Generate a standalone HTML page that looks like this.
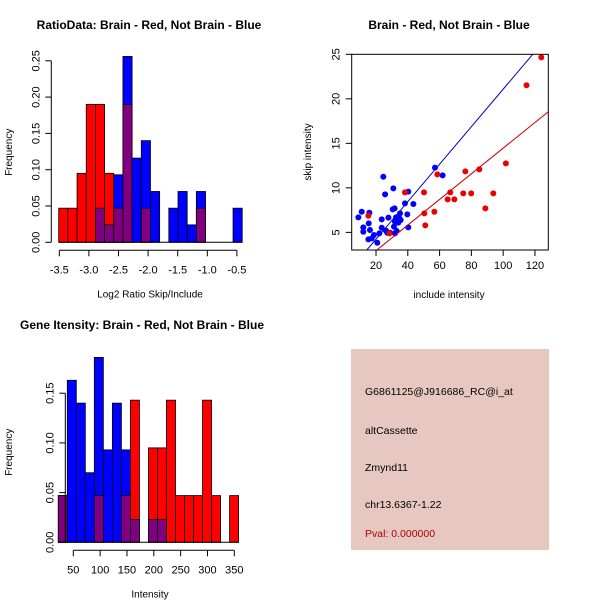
<!DOCTYPE html>
<html><head><meta charset="utf-8"><style>
body{margin:0;background:#fff;width:600px;height:600px;overflow:hidden}
svg{font-family:"Liberation Sans",sans-serif}
</style></head><body>
<svg id="s" width="600" height="600" viewBox="0 0 600 600" xmlns="http://www.w3.org/2000/svg">
<rect x="351" y="349" width="198" height="201" fill="#e6c8c0"/>
<g font-size="10.5" fill="#000">
<text x="365" y="395">G6861125@J916686_RC@i_at</text>
<text x="365" y="434">altCassette</text>
<text x="365" y="471">Zmynd11</text>
<text x="365" y="508">chr13.6367-1.22</text>
<text x="365" y="537" fill="#b00000">Pval: 0.000000</text>
</g>
</svg>
<script>
// ---- Histogram 1 data (Log2 ratio) ----
const h1Start = -3.51, h1Width = 0.155;
const h1Red  = [0.047,0.047,0.095,0.19,0.19,0.095,0.047,0.19,0,0.047,0,0,0,0,0,0.047,0,0,0,0];
const h1Blue = [0,0,0,0,0.047,0.024,0.093,0.256,0.116,0.14,0.07,0,0.047,0.07,0.024,0.07,0,0,0,0.047];
const h1XTicks = [-3.5,-3.0,-2.5,-2.0,-1.5,-1.0,-0.5];
const h1YTicks = [0,0.05,0.10,0.15,0.20,0.25];
// ---- Histogram 2 data (Intensity) ----
const h2Start = 22, h2Width = 16.8;
const h2Red  = [0.047,0,0,0,0.047,0,0,0.047,0.143,0,0.095,0.095,0.143,0.047,0.047,0.047,0.143,0.047,0,0.047];
const h2Blue = [0.047,0.163,0.14,0.07,0.186,0.093,0.14,0.093,0.023,0,0.023,0.023,0,0,0,0,0,0,0,0];
const h2XTicks = [50,100,150,200,250,300,350];
const h2YTicks = [0,0.05,0.10,0.15];
// ---- Scatter data ----
const blueX = [8.9,11.0,12.0,12.0,15.2,15.4,15.8,16.2,17.3,18.7,20.8,22.1,23.6,23.6,24.6,25.7,26.3,27.1,27.8,28.8,30.5,30.9,31.3,31.7,31.9,31.9,32.6,33.0,34.0,34.7,35.1,35.5,38.2,39.7,40.3,40.3,43.5,57.1,61.9];
const blueY = [6.69,7.32,5.56,5.07,4.21,6.01,7.21,5.26,4.33,4.70,3.84,4.89,6.46,5.52,11.25,9.27,5.19,4.96,6.65,4.96,7.58,9.94,5.64,7.70,6.20,4.89,6.69,5.15,6.09,6.57,7.13,6.39,8.26,7.02,9.57,5.56,8.18,12.27,11.40];
const redX = [15.2,28.4,38.2,50.2,50.4,51.0,56.7,58.6,65.1,66.7,69.3,74.9,76.2,79.9,85.0,88.8,93.8,101.7,114.7,124.0];
const redY = [6.87,4.89,9.49,9.49,7.13,5.79,7.32,11.52,8.71,9.49,8.71,9.38,11.85,9.38,12.08,7.70,9.38,12.75,21.52,24.66];
const blueFit = [0.03, 0.2105];
const redFit = [0.06, 0.144];
const scXTicks = [20,40,60,80,100,120];
const scYTicks = [5,10,15,20,25];

const NS="http://www.w3.org/2000/svg", svg=document.getElementById('s');
function el(tag, attrs, parent){const e=document.createElementNS(NS,tag);for(const k in attrs)e.setAttribute(k,attrs[k]);(parent||svg).appendChild(e);return e;}
function txt(x,y,s,attrs){const t=el('text',Object.assign({x:x,y:y,'font-size':11,'text-anchor':'middle'},attrs||{}));t.textContent=s;return t;}

function hist(cfg){
  const g=el('g',{});
  
  
  const sx=v=>cfg.x0+(v-cfg.xv0)*cfg.kx, sy=v=>cfg.y0-v*cfg.ky;
  const n=cfg.red.length;
  for(let i=0;i<n;i++){
    const a=cfg.start+i*cfg.width, b=a+cfg.width, r=cfg.red[i], bl=cfg.blue[i];
    const x1=sx(a), w=sx(b)-x1;
    const draw=(h,col,nm)=>{ if(h<=0) return; const rc=el('rect',{x:x1,y:sy(h),width:w,height:sy(0)-sy(h),fill:col,stroke:'#000','stroke-width':0.8},g);
      
      };
    if(r>=bl){draw(r,'#ff0000','bar-red');draw(bl,'#800080','bar-overlap');}
    else{draw(bl,'#0000ff','bar-blue');draw(r,'#800080','bar-overlap');}
  }
  el('line',{x1:sx(cfg.start),x2:sx(cfg.start+n*cfg.width),y1:sy(0),y2:sy(0),stroke:'#000'},g);
  const xa=el('g',{},g);
  
  
  const xt=cfg.xticks, ay=cfg.y0+8;
  el('line',{x1:sx(xt[0]),x2:sx(xt[xt.length-1]),y1:ay,y2:ay,stroke:'#000'},xa);
  xt.forEach(v=>{el('line',{x1:sx(v),x2:sx(v),y1:ay,y2:ay+6,stroke:'#000'},xa);
    const t=txt(sx(v),ay+23,cfg.xfmt(v));xa.appendChild(t);});
  const ya=el('g',{},g);
  
  
  const yt=cfg.yticks, ax=cfg.x0-8;
  el('line',{x1:ax,x2:ax,y1:sy(yt[0]),y2:sy(yt[yt.length-1]),stroke:'#000'},ya);
  yt.forEach(v=>{el('line',{x1:ax,x2:ax-6,y1:sy(v),y2:sy(v),stroke:'#000'},ya);
    const t=txt(ax-12,sy(v),v.toFixed(2),{transform:'rotate(-90 '+(ax-12)+' '+sy(v)+')'});ya.appendChild(t);});
  const yl=txt(12,cfg.y0-90,'Frequency',{'font-size':10,transform:'rotate(-90 12 '+(cfg.y0-90)+')'});
  
  
  const xl=txt(cfg.xlabelX,cfg.y0+55,cfg.xlabel,{'font-size':10});
  
  
  const tt=txt(cfg.titleX,cfg.titleY,cfg.title,{'font-size':12,'font-weight':'bold'});
  
  
}
hist({name:'ratio-histogram',red:h1Red,blue:h1Blue,start:h1Start,width:h1Width,x0:59.3,xv0:-3.5,kx:59.2,y0:242.3,ky:726,
  xticks:h1XTicks,yticks:h1YTicks,xfmt:v=>v.toFixed(1),xlabel:'Log2 Ratio Skip/Include',xlabelX:150,
  title:'RatioData: Brain - Red, Not Brain - Blue',titleX:149,titleY:29});
hist({name:'intensity-histogram',red:h2Red,blue:h2Blue,start:h2Start,width:h2Width,x0:73.3,xv0:50,kx:0.5367,y0:542.3,ky:994,
  xticks:h2XTicks,yticks:h2YTicks,xfmt:v=>String(v),xlabel:'Intensity',xlabelX:150,
  title:'Gene Itensity: Brain - Red, Not Brain - Blue',titleX:142,titleY:329});

(function(){
  const g=el('g',{});
  
  
  const L=351.7,R=548.3,T=54.3,B=250;
  const xmin=4.7,xmax=128.4,ymin=3.02,ymax=25.0;
  const sx=v=>L+(v-xmin)/(xmax-xmin)*(R-L), sy=v=>B-(v-ymin)/(ymax-ymin)*(B-T);
  el('defs',{},g).innerHTML='<clipPath id="cp"><rect x="'+L+'" y="'+T+'" width="'+(R-L)+'" height="'+(B-T)+'"/></clipPath>';
  const pts=(xs,ys,col,nm)=>xs.forEach((x,i)=>{const c=el('circle',{cx:sx(x),cy:sy(ys[i]),r:3,fill:col},g);
    
    });
  pts(blueX,blueY,'#0000ff','point-blue');
  pts(redX,redY,'#ee0000','point-red');
  const fit=(f,col,nm)=>{const l=el('line',{x1:sx(xmin),y1:sy(f[0]+f[1]*xmin),x2:sx(xmax),y2:sy(f[0]+f[1]*xmax),stroke:col,'clip-path':'url(#cp)'},g);
    
    };
  fit(blueFit,'#0000cc','fit-line-blue');
  fit(redFit,'#cc0000','fit-line-red');
  el('rect',{x:L,y:T,width:R-L,height:B-T,fill:'none',stroke:'#000'},g);
  scXTicks.forEach(v=>{el('line',{x1:sx(v),x2:sx(v),y1:B,y2:B+6,stroke:'#000'},g);txt(sx(v),B+19,String(v));});
  scYTicks.forEach(v=>{el('line',{x1:L,x2:L-6,y1:sy(v),y2:sy(v),stroke:'#000'},g);txt(L-12,sy(v),String(v),{transform:'rotate(-90 '+(L-12)+' '+sy(v)+')'});});
  const xl=txt(449,298,'include intensity',{'font-size':10});
  
  
  const yl=txt(311,152,'skip intensity',{'font-size':10,transform:'rotate(-90 311 152)'});
  
  
  const tt=txt(449,29,'Brain - Red, Not Brain - Blue',{'font-size':12,'font-weight':'bold'});
  
  
})();
</script>
</body></html>
